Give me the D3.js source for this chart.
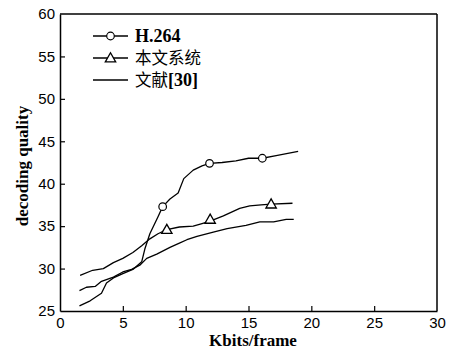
<!DOCTYPE html>
<html><head><meta charset="utf-8">
<script src="https://cdn.jsdelivr.net/npm/d3@7"></script>
<style>
html,body{margin:0;padding:0;background:#fff;}
svg{display:block;}
</style>
</head><body>
<svg id="chart" width="456" height="349"></svg>
<script>
// ---- data ----
const xTicks = [0, 5, 10, 15, 20, 25, 30];
const yTicks = [25, 30, 35, 40, 45, 50, 55, 60];

const h264X = [1.55, 2.4, 3.3, 3.7, 4.25, 5.0, 5.8, 6.5, 6.75, 7.15, 7.8, 8.17, 8.75, 9.4, 9.85, 10.6, 11.3, 11.9, 12.9, 14.0, 15.0, 16.1, 17.2, 18.95];
const h264Y = [25.6, 26.2, 27.1, 28.3, 28.9, 29.4, 29.9, 30.8, 32.3, 34.1, 36.1, 37.3, 38.2, 38.9, 40.6, 41.6, 42.1, 42.4, 42.5, 42.7, 43.0, 43.0, 43.3, 43.8];
const h264MarkX = [8.17, 11.9, 16.1];
const h264MarkY = [37.3, 42.4, 43.0];

const oursX = [1.6, 2.6, 3.45, 4.25, 5.0, 5.8, 6.5, 7.15, 7.8, 8.5, 9.5, 10.6, 11.3, 11.95, 13.0, 14.3, 15.1, 16.0, 16.8, 18.5];
const oursY = [29.2, 29.8, 30.0, 30.7, 31.2, 31.9, 32.7, 33.5, 34.1, 34.6, 34.9, 35.0, 35.3, 35.6, 36.2, 37.1, 37.4, 37.5, 37.6, 37.7];
const oursMarkX = [8.5, 11.95, 16.8];
const oursMarkY = [34.6, 35.8, 37.6];

const refX = [1.55, 2.1, 2.8, 3.3, 4.25, 5.0, 5.7, 6.35, 6.9, 7.7, 8.75, 9.5, 10.1, 10.9, 12.2, 13.3, 14.8, 15.9, 17.0, 18.0, 18.6];
const refY = [27.4, 27.8, 27.9, 28.5, 29.0, 29.6, 29.9, 30.4, 31.2, 31.7, 32.5, 33.0, 33.4, 33.8, 34.3, 34.7, 35.1, 35.5, 35.5, 35.8, 35.8];

const seriesNames = ["H.264", "本文系统", "文献[30]"];
const xTitle = "Kbits/frame";
const yTitle = "decoding quality";

// ---- chart ----
const svg = d3.select("#chart");
const L = 60, R = 437, T = 14, B = 311;
const x = d3.scaleLinear().domain([0, 30]).range([L, R]);
const y = d3.scaleLinear().domain([25, 60]).range([B, T]);

const tickFont = "'Liberation Sans', Arial, sans-serif";
const serif = "'Liberation Serif', 'Times New Roman', serif";

const gx = svg.append("g").attr("transform", `translate(0,${B})`)
  .call(d3.axisBottom(x).tickValues(xTicks).tickSize(-5).tickPadding(6).tickSizeOuter(0));
const gy = svg.append("g").attr("transform", `translate(${L},0)`)
  .call(d3.axisLeft(y).tickValues(yTicks).tickSize(-5).tickPadding(5).tickSizeOuter(0));
[gx, gy].forEach(g => {
  g.select(".domain").attr("stroke", "#000").attr("stroke-width", 1.5);
  g.selectAll(".tick line").attr("stroke", "#000").attr("stroke-width", 1.2);
  g.selectAll(".tick text").attr("font-family", tickFont).attr("font-size", 15).attr("fill", "#000");
});
gx.selectAll(".tick").filter(d => d === 0 || d === 30).select("line").remove();
gy.selectAll(".tick").filter(d => d === 25 || d === 60).select("line").remove();

// box top/right
svg.append("line").attr("x1", L).attr("x2", R).attr("y1", T).attr("y2", T).attr("stroke", "#000").attr("stroke-width", 1.5);
svg.append("line").attr("x1", R).attr("x2", R).attr("y1", T).attr("y2", B).attr("stroke", "#000").attr("stroke-width", 1.5);

const line = d3.line().x(d => x(d[0])).y(d => y(d[1]));
function draw(xs, ys) {
  svg.append("path").datum(d3.zip(xs, ys)).attr("d", line)
    .attr("fill", "none").attr("stroke", "#000").attr("stroke-width", 1.3).attr("stroke-linejoin", "round");
}
draw(h264X, h264Y);
draw(oursX, oursY);
draw(refX, refY);

function circle(cx, cy) {
  svg.append("circle").attr("cx", cx).attr("cy", cy).attr("r", 3.8)
    .attr("fill", "#fff").attr("stroke", "#000").attr("stroke-width", 1.2);
}
function tri(cx, cy) {
  const s = 5.2;
  svg.append("path").attr("d", `M${cx},${cy - s}L${cx + s},${cy + s * 0.75}L${cx - s},${cy + s * 0.75}Z`)
    .attr("fill", "#fff").attr("stroke", "#000").attr("stroke-width", 1.3);
}
d3.zip(h264MarkX, h264MarkY).forEach(d => circle(x(d[0]), y(d[1])));
d3.zip(oursMarkX, oursMarkY).forEach(d => tri(x(d[0]), y(d[1])));

// legend
const legRows = [36, 58, 80];
const lx1 = 93, lx2 = 128, tx = 135;
legRows.forEach((ry, i) => {
  svg.append("line").attr("x1", lx1).attr("x2", lx2).attr("y1", ry).attr("y2", ry)
    .attr("stroke", "#000").attr("stroke-width", 1.3);
  if (i === 0) circle((lx1 + lx2) / 2, ry);
  if (i === 1) tri((lx1 + lx2) / 2, ry);
});
svg.append("text").attr("x", tx).attr("y", legRows[0] + 6)
  .attr("font-family", serif).attr("font-weight", "bold").attr("font-size", 18).text(seriesNames[0]);
svg.append("text").attr("x", tx).attr("y", legRows[1] + 6)
  .attr("font-family", "'Noto Sans CJK SC', sans-serif").attr("font-size", 16.5).text(seriesNames[1]);
const t3 = svg.append("text").attr("x", tx).attr("y", legRows[2] + 6).attr("font-size", 16.5);
t3.append("tspan").attr("font-family", "'Noto Sans CJK SC', sans-serif").text("文献");
t3.append("tspan").attr("font-family", serif).attr("font-weight", "bold").attr("font-size", 18).text("[30]");

// axis titles
svg.append("text").attr("x", 253).attr("y", 346).attr("text-anchor", "middle")
  .attr("font-family", serif).attr("font-weight", "bold").attr("font-size", 17).text(xTitle);
svg.append("text").attr("transform", "translate(28,166) rotate(-90)").attr("text-anchor", "middle")
  .attr("font-family", serif).attr("font-weight", "bold").attr("font-size", 17).text(yTitle);
</script>
</body></html>
